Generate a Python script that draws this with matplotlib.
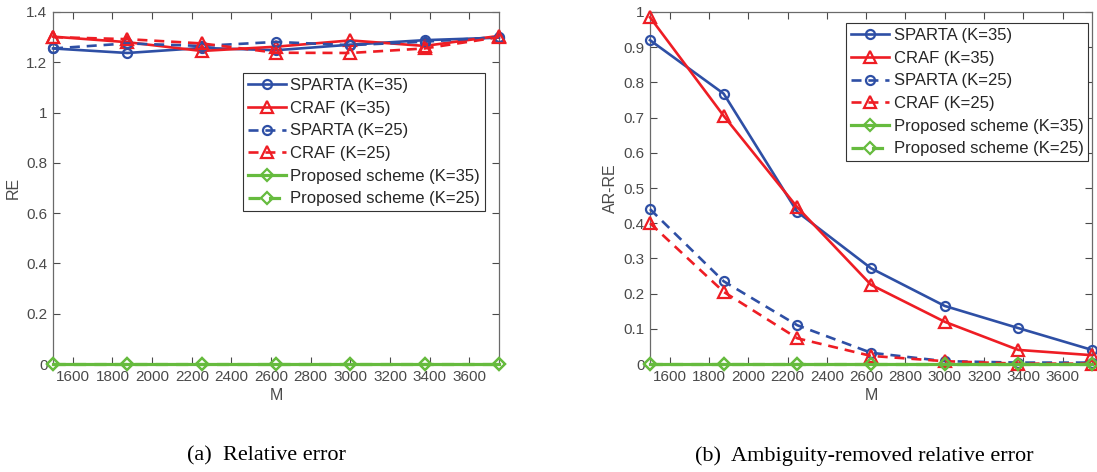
import matplotlib
matplotlib.use("Agg")
import matplotlib.pyplot as plt
from matplotlib.ticker import FuncFormatter

plt.rcParams['font.family'] = ['Liberation Sans', 'DejaVu Sans']

M = [1500, 1875, 2250, 2625, 3000, 3375, 3750]

# (a) Relative error
re_sparta35 = [1.255, 1.237, 1.257, 1.248, 1.270, 1.288, 1.298]
re_craf35 = [1.302, 1.280, 1.245, 1.262, 1.287, 1.265, 1.305]
re_sparta25 = [1.255, 1.275, 1.265, 1.281, 1.268, 1.282, 1.300]
re_craf25 = [1.300, 1.292, 1.275, 1.238, 1.237, 1.255, 1.300]
re_prop35 = [0, 0, 0, 0, 0, 0, 0]
re_prop25 = [0, 0, 0, 0, 0, 0, 0]

# (b) Ambiguity-removed relative error
ar_sparta35 = [0.920, 0.768, 0.432, 0.272, 0.165, 0.102, 0.040]
ar_craf35 = [0.985, 0.705, 0.445, 0.225, 0.120, 0.040, 0.025]
ar_sparta25 = [0.440, 0.235, 0.110, 0.032, 0.008, 0.004, 0.004]
ar_craf25 = [0.400, 0.205, 0.073, 0.023, 0.008, 0.001, 0.001]
ar_prop35 = [0, 0, 0, 0, 0, 0, 0]
ar_prop25 = [0, 0, 0, 0, 0, 0, 0]

labels = ["SPARTA (K=35)", "CRAF (K=35)", "SPARTA (K=25)", "CRAF (K=25)",
          "Proposed scheme (K=35)", "Proposed scheme (K=25)"]
xticks = [1600, 1800, 2000, 2200, 2400, 2600, 2800, 3000, 3200, 3400, 3600]

BLUE = '#2E4FA5'
RED = '#EE1D24'
GREEN = '#66BB3E'
GRAY = '#4A4A4A'

styles = [
    dict(color=BLUE, ls='-', marker='o', ms=6.5, lw=1.9),
    dict(color=RED, ls='-', marker='^', ms=9, lw=1.9),
    dict(color=BLUE, ls='--', marker='o', ms=6.5, lw=1.9),
    dict(color=RED, ls='--', marker='^', ms=9, lw=1.9),
    dict(color=GREEN, ls='-', marker='D', ms=6, lw=2.3),
    dict(color=GREEN, ls='--', marker='D', ms=6, lw=2.3),
]

fig = plt.figure(figsize=(10.97, 4.72), dpi=100)
ax1 = fig.add_axes([53/1097, 108/472, 446/1097, 352/472])
ax2 = fig.add_axes([650/1097, 108/472, 442/1097, 352/472])


def draw(ax, series, ylim, yticks, ylabel, leg_bbox):
    for ys, st, lab in zip(series, styles, labels):
        ax.plot(M, ys, color=st['color'], ls=st['ls'], marker=st['marker'],
                ms=st['ms'], mfc='none', mew=1.6, lw=st['lw'], label=lab,
                clip_on=False, zorder=3,
                dashes=(3.8, 2.6) if st['ls'] == '--' else (None, None))
    ax.set_xlim(1500, 3750)
    ax.set_ylim(*ylim)
    ax.set_xticks(xticks)
    ax.set_yticks(yticks)
    ax.yaxis.set_major_formatter(FuncFormatter(lambda v, p: ('%g' % round(v, 2))))
    ax.tick_params(direction='in', length=5, top=True, right=True,
                   labelsize=11, colors=GRAY, width=0.8, pad=4)
    for s in ax.spines.values():
        s.set_color('#6a6a6a')
        s.set_linewidth(0.9)
    ax.set_xlabel('M', fontsize=11.5, color=GRAY, labelpad=3)
    ax.set_ylabel(ylabel, fontsize=11.5, color=GRAY, labelpad=4)
    leg = ax.legend(loc='upper left', bbox_to_anchor=leg_bbox,
                    bbox_transform=fig.transFigure, fontsize=12,
                    frameon=True, fancybox=False, framealpha=1,
                    edgecolor='#333333', handlelength=2.3, handletextpad=0.25,
                    borderpad=0.3, labelspacing=0.46, borderaxespad=0)
    leg.get_frame().set_linewidth(0.8)
    leg.set_zorder(5)
    for t in leg.get_texts():
        t.set_color('#262626')


draw(ax1, [re_sparta35, re_craf35, re_sparta25, re_craf25, re_prop35, re_prop25],
     (0, 1.4), [0, 0.2, 0.4, 0.6, 0.8, 1.0, 1.2, 1.4], 'RE',
     (243/1097, 1 - 73/472))
draw(ax2, [ar_sparta35, ar_craf35, ar_sparta25, ar_craf25, ar_prop35, ar_prop25],
     (0, 1.0), [0, 0.1, 0.2, 0.3, 0.4, 0.5, 0.6, 0.7, 0.8, 0.9, 1.0], 'AR-RE',
     (846/1097, 1 - 23/472))

fig.text(266/1097, 1 - 456/472, '(a)  Relative error', ha='center', va='center',
         fontsize=16, family='Liberation Serif')
fig.text(864/1097, 1 - 456/472, '(b)  Ambiguity-removed relative error', ha='center',
         va='center', fontsize=16, family='Liberation Serif')

fig.savefig('out.png', dpi=100)
